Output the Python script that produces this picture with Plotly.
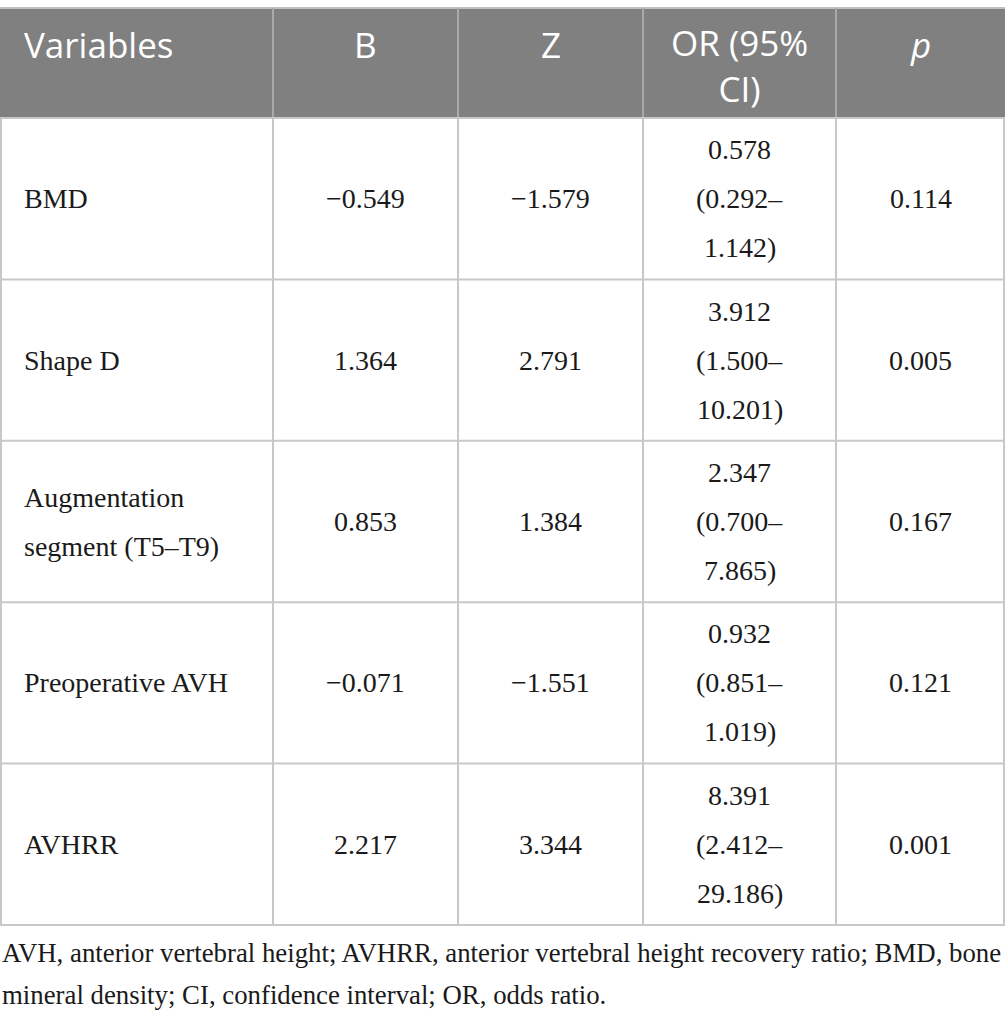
import textwrap
import plotly.graph_objects as go

# ---- data ----
variables = ["BMD", "Shape D", "Augmentation segment (T5–T9)", "Preoperative AVH", "AVHRR"]
b_vals = ["−0.549", "1.364", "0.853", "−0.071", "2.217"]
z_vals = ["−1.579", "2.791", "1.384", "−1.551", "3.344"]
or_vals = ["0.578", "3.912", "2.347", "0.932", "8.391"]
ci_low = ["0.292", "1.500", "0.700", "0.851", "2.412"]
ci_high = ["1.142", "10.201", "7.865", "1.019", "29.186"]
p_vals = ["0.114", "0.005", "0.167", "0.121", "0.001"]
header_lines = [["Variables"], ["B"], ["Z"], ["OR (95%", "CI)"], ["<i>p</i>"]]
footnote_lines = [
    "AVH, anterior vertebral height; AVHRR, anterior vertebral height recovery ratio; BMD, bone",
    "mineral density; CI, confidence interval; OR, odds ratio.",
]

# ---- layout constants ----
W, H = 1005, 1019
col_edges = [0, 273, 458, 643, 836, 1005]
top = 8
header_bottom = 118
row_h = 161.4
n_rows = len(variables)
row_edges = [header_bottom + i * row_h for i in range(n_rows + 1)]
line_gap = 49
header_line_gap = 42
header_first_y = 44
grid_col = "#c8c8c8"
head_sep = "#a9a9a9"
head_fill = "#808080"
body_font = dict(family="Liberation Serif, serif", size=28, color="#1a1a1a")
foot_font = dict(family="Liberation Serif, serif", size=26.8, color="#1a1a1a")
head_font = dict(family="Open Sans, sans-serif", size=35, color="white")

fig = go.Figure()
shapes = []
annots = []

# header background
shapes.append(dict(type="rect", xref="x", yref="y", x0=0, x1=W, y0=top, y1=header_bottom,
                   fillcolor=head_fill, line=dict(width=0), layer="below"))
# top border
shapes.append(dict(type="line", xref="x", yref="y", x0=0, x1=W, y0=top, y1=top,
                   line=dict(color="#c0c0c0", width=2)))
# header vertical separators
for x in col_edges[1:-1]:
    shapes.append(dict(type="line", xref="x", yref="y", x0=x, x1=x, y0=top, y1=header_bottom,
                       line=dict(color=head_sep, width=2)))
# body vertical lines (including outer borders)
for x in [1] + col_edges[1:-1] + [W - 1]:
    shapes.append(dict(type="line", xref="x", yref="y", x0=x, x1=x, y0=header_bottom, y1=row_edges[-1],
                       line=dict(color=grid_col, width=2)))
# horizontal row lines
for y in row_edges:
    shapes.append(dict(type="line", xref="x", yref="y", x0=0, x1=W, y0=y, y1=y,
                       line=dict(color=grid_col, width=2)))


def add_text(x, y, text, font, align="center"):
    annots.append(dict(x=x, y=y, xref="x", yref="y", text=text, showarrow=False,
                       xanchor="left" if align == "left" else "center", yanchor="middle",
                       font=font))


centers = [(col_edges[i] + col_edges[i + 1]) / 2 for i in range(len(col_edges) - 1)]
pad_left = 22

# header texts (multi-line headers as one text block, top-aligned with single-line ones)
for ci, lines in enumerate(header_lines):
    n = len(lines)
    y = header_first_y + (n - 1) * header_line_gap / 2
    t = "<br>".join(lines)
    if ci == 0:
        add_text(pad_left, y, t, head_font, "left")
    else:
        add_text(centers[ci], y, t, head_font)

# body texts
for r in range(n_rows):
    yc = (row_edges[r] + row_edges[r + 1]) / 2
    var_lines = textwrap.wrap(variables[r], width=16)
    n = len(var_lines)
    for li, t in enumerate(var_lines):
        add_text(pad_left, yc + (li - (n - 1) / 2) * line_gap, t, body_font, "left")
    add_text(centers[1], yc, b_vals[r], body_font)
    add_text(centers[2], yc, z_vals[r], body_font)
    or_lines = [or_vals[r], "(" + ci_low[r] + "–", ci_high[r] + ")"]
    for li, t in enumerate(or_lines):
        add_text(centers[3], yc + (li - 1) * line_gap, t, body_font)
    add_text(centers[4], yc, p_vals[r], body_font)

# footnote
foot_y = [953, 995]
for t, y in zip(footnote_lines, foot_y):
    add_text(0, y, t, foot_font, "left")

fig.update_layout(
    width=W, height=H,
    margin=dict(l=0, r=0, t=0, b=0),
    paper_bgcolor="white", plot_bgcolor="white",
    xaxis=dict(range=[0, W], visible=False, fixedrange=True),
    yaxis=dict(range=[H, 0], visible=False, fixedrange=True),
    shapes=shapes, annotations=annots, showlegend=False,
)
fig.write_html("out.html",
               config={"displayModeBar": False},
               post_script="document.body.style.margin='0';document.body.style.overflow='hidden';")
